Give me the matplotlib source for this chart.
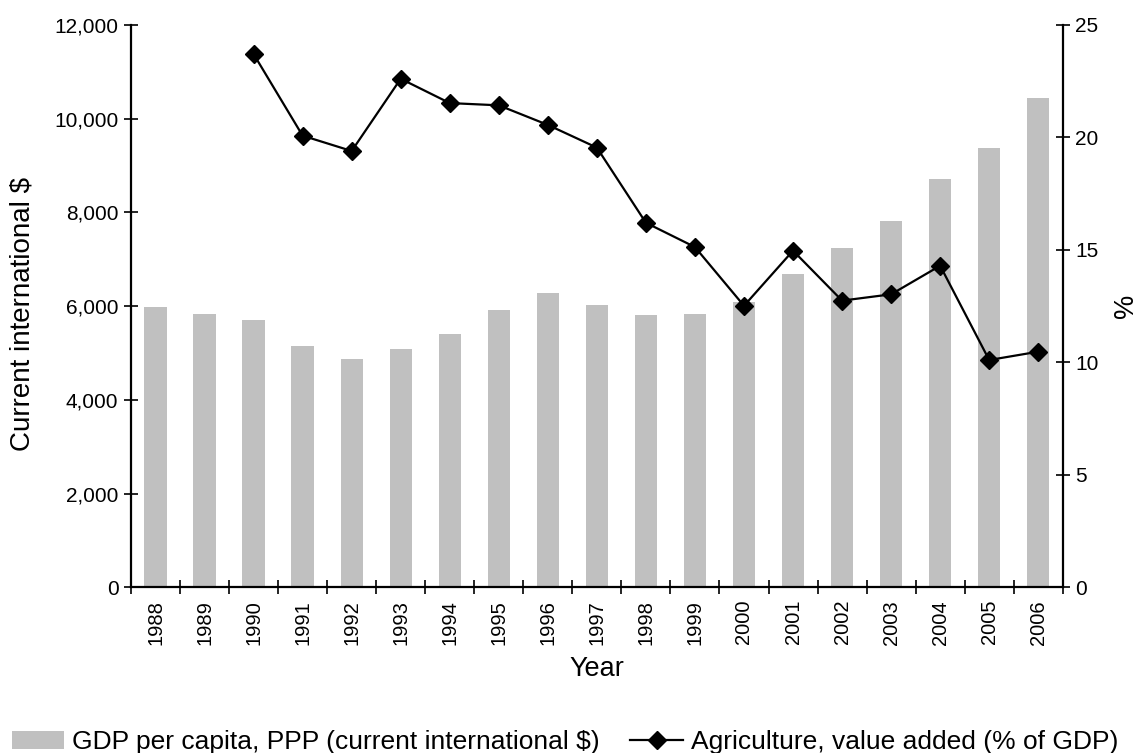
import numpy as np
import matplotlib
matplotlib.use('Agg')
import matplotlib.pyplot as plt
from matplotlib.ticker import FuncFormatter

plt.rcParams['font.family'] = ['Liberation Sans', 'DejaVu Sans']

years = ['1988', '1989', '1990', '1991', '1992', '1993', '1994', '1995', '1996', '1997',
         '1998', '1999', '2000', '2001', '2002', '2003', '2004', '2005', '2006']
gdp_ppp = [5990, 5835, 5700, 5145, 4881, 5082, 5401, 5920, 6289, 6020,
           5807, 5835, 6084, 6681, 7249, 7819, 8721, 9383, 10443]
# agriculture share starts in 1990
agri_years = years[2:]
agri_share = [23.71, 20.08, 19.40, 22.61, 21.53, 21.43, 20.56, 19.55, 16.21, 15.13,
              12.52, 14.97, 12.75, 13.03, 14.30, 10.11, 10.48]

fs = 14.5   # tick labels
lfs = 19    # axis labels and legend
fig = plt.figure(figsize=(11.37, 7.53), dpi=100)
ax = fig.add_axes([0.1152, 0.2198, 0.8195, 0.747])
ax2 = ax.twinx()

x = np.arange(len(years))
bars = ax.bar(x, gdp_ppp, width=0.455, color='#c0c0c0',
              label='GDP per capita, PPP (current international $)', zorder=2)

xa = np.array([years.index(y) for y in agri_years])
line, = ax2.plot(xa, agri_share, color='black', lw=1.6, marker='D', markersize=9,
                 label='Agriculture, value added (% of GDP)')

ax.set_xlim(-0.5, len(years) - 0.5)
ax.set_ylim(0, 12000)
ax2.set_ylim(0, 25)
ax.set_yticks(range(0, 12001, 2000))
ax.yaxis.set_major_formatter(FuncFormatter(lambda v, p: f'{int(v):,}'))
ax2.set_yticks(range(0, 26, 5))

# category boundaries get tick marks, labels sit at centres
ax.set_xticks(np.arange(-0.5, len(years), 1.0))
ax.set_xticklabels([])
ax.set_xticks(x, minor=True)
ax.set_xticklabels(years, minor=True, rotation=90, fontsize=fs)
ax.tick_params(axis='x', which='minor', length=0, pad=9)
ax.tick_params(axis='x', which='major', direction='inout', length=10, width=1.2)
ax.tick_params(axis='y', direction='inout', length=10, width=1.2, labelsize=fs + 0.5, pad=4)
ax2.tick_params(axis='y', direction='inout', length=10, width=1.2, labelsize=fs + 0.5, pad=4)

for a in (ax, ax2):
    a.spines['top'].set_visible(False)
    for s in ('left', 'right', 'bottom'):
        a.spines[s].set_linewidth(1.6)
ax.spines['right'].set_visible(False)
ax2.spines['left'].set_visible(False)
ax2.spines['bottom'].set_visible(False)

ax.set_xlabel('Year', fontsize=lfs + 0.5, labelpad=8)
ax.set_ylabel('Current international $', fontsize=lfs + 1, labelpad=10)
ax.yaxis.set_label_coords(-0.103, 0.486)
ax2.set_ylabel('%', fontsize=lfs + 0.5, labelpad=10)

fig.legend([bars, line], [bars.get_label(), line.get_label()], loc='lower center',
           bbox_to_anchor=(0.497, -0.033), ncol=2, frameon=False, fontsize=lfs,
           handlelength=2.0, handletextpad=0.3, columnspacing=1.15)

fig.savefig('out.png', dpi=100)
